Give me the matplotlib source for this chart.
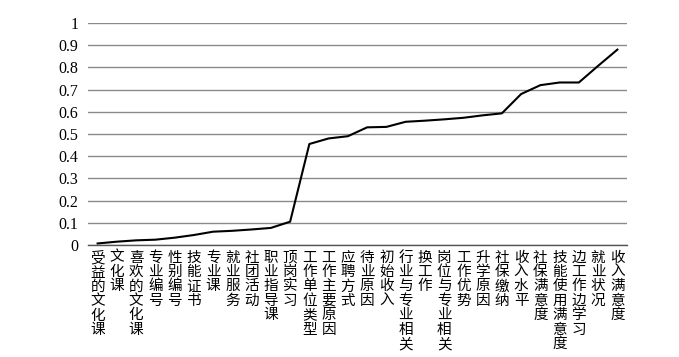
import matplotlib
matplotlib.use("Agg")
import matplotlib.pyplot as plt
import numpy as np

# 各因素的数值（由小到大排列）
categories = ["受益的文化课", "文化课", "喜欢的文化课", "专业编号", "性别编号",
              "技能证书", "专业课", "就业服务", "社团活动", "职业指导课",
              "顶岗实习", "工作单位类型", "工作主要原因", "应聘方式", "待业原因",
              "初始收入", "行业与专业相关", "换工作", "岗位与专业相关", "工作优势",
              "升学原因", "社保缴纳", "收入水平", "社保满意度", "技能使用满意度",
              "边工作边学习", "就业状况", "收入满意度"]
values = [0.007, 0.015, 0.021, 0.024, 0.033, 0.045, 0.060, 0.064, 0.070, 0.077,
          0.105, 0.455, 0.480, 0.490, 0.530, 0.532, 0.555, 0.560, 0.566, 0.573,
          0.584, 0.593, 0.680, 0.720, 0.732, 0.732, 0.807, 0.880]
yticks = [0, 0.1, 0.2, 0.3, 0.4, 0.5, 0.6, 0.7, 0.8, 0.9, 1]
ytick_labels = ["0", "0.1", "0.2", "0.3", "0.4", "0.5", "0.6", "0.7", "0.8", "0.9", "1"]

fig = plt.figure(figsize=(6.79, 3.57), dpi=100)
ax = fig.add_axes([0.1296, 0.3137, 0.7938, 0.6219])

x = np.arange(len(categories))
ax.plot(x, values, color="black", linewidth=1.5)

ax.set_xlim(-0.5, len(categories) - 0.5)
ax.set_ylim(0, 1)
ax.set_yticks(yticks)
ax.set_yticklabels(ytick_labels, fontfamily="Liberation Serif", fontsize=11.5)
ax.yaxis.grid(True, color="#8a8a8a", linewidth=1)
ax.set_axisbelow(True)

# 竖排的横轴标签：每个字一行
ax.set_xticks(x)
ax.set_xticklabels(["\n".join(c) for c in categories], fontfamily="Noto Sans CJK SC",
                   fontsize=10.5, va="top", linespacing=1.04)
ax.tick_params(axis="both", length=0)
ax.tick_params(axis="x", pad=4)
ax.tick_params(axis="y", pad=7)

for s in ["top", "right", "left"]:
    ax.spines[s].set_visible(False)
ax.spines["bottom"].set_color("#555555")
ax.spines["bottom"].set_linewidth(1)

fig.savefig("out.png", dpi=100)
